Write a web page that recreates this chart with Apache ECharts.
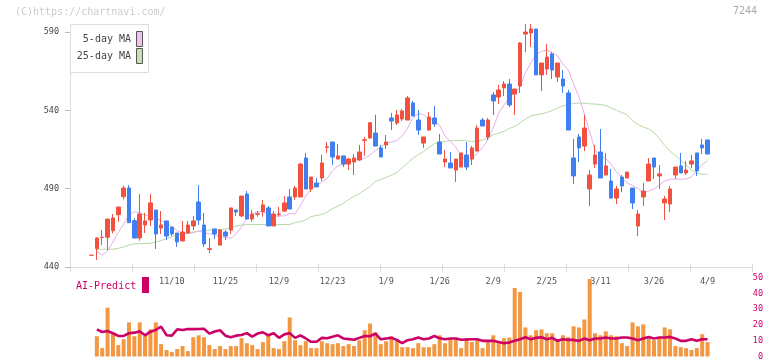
<!DOCTYPE html>
<html><head><meta charset="utf-8">
<script src="https://cdn.jsdelivr.net/npm/echarts@6/dist/echarts.min.js"></script>
<style>html,body{margin:0;padding:0;background:#fff}#c{width:772px;height:361px}</style>
</head><body><div id="c"></div>
<script>
const dates = ['10/17','10/20','10/21','10/22','10/23','10/24','10/27','10/28','10/29','10/30','10/31','11/4','11/5','11/6','11/7',
'11/10','11/11','11/12','11/13','11/14','11/17','11/18','11/19','11/20','11/21','11/25','11/26','11/27','11/28','12/1','12/2','12/3','12/4','12/5','12/8',
'12/9','12/10','12/11','12/12','12/15','12/16','12/17','12/18','12/19','12/22','12/23','12/24','12/25','12/26','12/29','12/30','1/5','1/6','1/7','1/8',
'1/9','1/13','1/14','1/15','1/16','1/19','1/20','1/21','1/22','1/23','1/26','1/27','1/28','1/29','1/30','2/2','2/3','2/4','2/5','2/6',
'2/9','2/10','2/12','2/13','2/16','2/17','2/18','2/19','2/20','2/24','2/25','2/26','2/27','3/2','3/3','3/4','3/5','3/6','3/9','3/10',
'3/11','3/12','3/13','3/16','3/17','3/18','3/19','3/23','3/24','3/25','3/26','3/27','3/30','3/31','4/1','4/2','4/3','4/6','4/7','4/8','4/9'];
const tickLabels = ['11/10','11/25','12/9','12/23','1/9','1/26','2/9','2/25','3/11','3/26','4/9'];
const priceTicks = [440, 490, 540, 590];

const opens = [447.5,451.7,458.8,459,463.2,473.4,484.9,490.4,469.6,458.5,466.8,470,476.4,464.9,469.4,465.5,461.7,456.6,461.7,466.2,
481.5,466.8,451.2,464.3,454,462.3,463.6,476.4,472.6,486.6,470.6,473.6,475.3,477.7,466.2,473.6,475.7,484.7,484.7,484.7,
509.6,489.8,493.6,496.8,516.4,519.8,508.9,510.9,505.7,507,508.3,520.8,522.4,525.5,516,517.9,535.1,531.9,534.5,533.8,
544.7,533.8,519.1,527.4,535.1,519.8,507,506.4,501.9,503.8,511.5,508.9,514,533.8,523,549.8,548.5,554.3,556.8,550.4,
555.5,588.7,589.4,591.9,562.6,566.4,576,561.3,560,551.1,509.6,523,517.2,489.8,505.7,513.4,498.7,494.9,484,497.4,
496.8,490.4,466.2,484.7,494.9,509.6,498.1,480.9,480.2,498.7,504.5,500,505.7,512.8,517.9,521.1];
const closes = [447.5,458.5,459,470.6,471.3,478.3,490.4,468.3,458.5,473.8,469.4,480.9,461.1,466.8,459.8,461.1,456,462.3,466.8,469.4,
470,454.7,451.7,461.1,463.6,459.8,477.7,475.1,485.3,470.6,473.8,474,479.6,466.2,473.8,473.9,480.9,477,490.4,505.7,
489.8,497.4,491.1,506.4,516.8,510.2,510.9,505.7,508.9,509.6,513.4,521.2,532.1,517.2,510.2,519.8,533.2,537,539.6,547.9,
536.4,527.4,523,535.7,531.3,512.1,508.9,503.2,508.9,512.8,503.8,516,528.7,530,533.8,546,553,556.8,543.4,553.6,
583,590,591.9,562.6,570.2,574,565.7,570.2,555.5,527.4,498.1,516,528.7,498.7,511.5,496.8,504.5,484,489.8,491.7,
500.6,480.9,473.8,488.5,505.7,503.8,499.4,483.4,489.8,503.8,500,501.9,507.7,501.3,516,512.1];
const lows = [447.5,444.5,454,450.8,461.5,468.9,483.2,468.3,458.5,456.8,461.7,466.2,451.5,461.1,457.2,459.8,452.8,456.6,461.7,463.6,
466.8,452.8,448.9,457.9,454,457.2,461.1,472.6,471.9,470.6,468.9,472.1,472.1,466.2,466.2,472.1,475.1,477,482.8,484.7,
489.8,487.9,491.1,494.9,512.8,505.1,508.9,503.8,501.9,498.7,507.7,511,521.7,517.2,510.2,515.3,527.4,530.6,533.2,533.8,
536.4,524.3,516,527.4,529.4,512.1,503.8,503.2,494.3,503.8,501.9,505.1,514,530,521.1,537,544,549.1,542.1,537,
551.1,577.2,580.4,562.6,552.3,562.6,560,558.1,551.1,527.4,493,507,514,478.9,503.2,496.8,498.7,484,480.2,487.9,
496.8,477,459.8,478.9,494.9,496.2,489.8,470,475.1,496.2,500,498.7,503.2,498.1,512.1,512.1];
const highs = [447.5,459,463.6,470.6,473.8,478.3,491.9,492.3,471.1,486.6,474.5,486.6,476.4,475.7,469.4,465.5,461.7,469.4,469.4,472.6,
492.3,474.5,458.5,464.3,464.3,463.6,477.7,476.4,485.3,488.5,476.4,475.7,482.8,478.9,475.7,478.3,485.3,489.8,491.7,506.4,
512.8,497.4,496.8,511.7,519.8,519.8,518.5,510.9,509.6,512.1,517.9,523,532.1,537.2,517.9,524.3,538.3,540.2,540.9,549.1,
546,540.2,523,538.9,542.8,524.9,514.7,513.4,508.9,512.8,519.8,517.2,530.6,535.1,535.1,551.7,556.2,558.7,560,553.6,
583.6,595.1,595.1,591.9,570.2,582.3,577.2,570.2,565.7,553,521.7,524.9,537,501.9,517.9,528.1,512.8,502.6,491.7,498.7,
500.6,490.4,476.4,493.6,509.6,509.6,505.1,485.3,491.7,503.8,512.8,507.7,511.5,512.8,521.7,521.1];

const ma5 = ['-',449.8,447.7,450.2,456.0,462.0,467.4,473.2,475.3,474.5,473.2,472.1,471.0,469.7,467.8,465.9,463.0,461.4,461.4,461.9,
463.0,462.0,461.1,460.7,459.1,459.1,458.2,461.1,465.5,471.3,474.1,475.4,475.1,474.1,472.6,472.6,472.6,474.1,473.8,479.3,
485.3,489.8,492.3,494.3,496.5,501.6,504.5,505.7,506.1,508.3,508.7,509.3,511.5,514.4,516.9,519.0,519.8,520.7,523.6,528.7,
535.1,538.0,537.3,534.8,533.2,530.3,523.6,520.1,516.6,510.9,507.3,508.9,512.6,516.3,521.1,528.7,538.3,543.4,548.2,551.1,
554.9,563.8,570.2,575.6,577.6,578.5,576.9,574.7,569.6,565.7,556.8,548.5,537.7,526.2,514.7,510.5,509.4,505.4,500.6,497.1,
493.6,492.0,490.1,487.2,488.5,489.8,492.3,494.9,495.9,496.2,495.9,496.2,497.5,501.3,505.4,507.7];
const ma25 = ['-',451.3,451.3,451.3,451.3,451.9,452.8,454.0,454.7,454.9,455.0,455.1,456.0,456.9,458.1,459.3,460.4,461.3,461.9,462.3,
462.9,463.2,463.6,463.8,463.9,464.3,465.1,466.0,466.7,467.0,467.1,467.1,467.1,467.1,467.1,467.1,467.1,467.1,468.3,469.0,
470.0,472.2,472.9,473.5,475.1,477.3,478.9,480.5,483.1,485.0,486.9,489.1,491.3,494.6,495.9,497.1,498.7,500.3,503.5,506.4,
509.3,511.8,513.7,516.3,518.8,519.6,520.1,520.6,520.7,520.7,520.6,520.1,520.4,521.1,522.7,524.3,525.5,526.6,528.4,529.7,
531.9,534.5,536.4,537.2,537.7,538.6,539.9,541.5,542.9,543.7,544.4,544.7,544.5,544.2,544.0,543.7,543.1,541.5,539.9,538.6,
537.0,533.4,531.0,529.4,528.1,525.9,522.0,517.6,514.0,511.2,508.3,505.1,501.9,500.0,499.2,499.2];

const volume = ['-',12.8,5.3,30.9,14.1,7.2,10.9,21.6,12.8,21.6,13.0,17.2,21.6,7.8,4.1,2.8,4.7,6.6,3.4,12.2,
13.4,12.2,7.2,4.7,6.6,4.7,6.6,6.6,11.6,8.4,7.2,4.7,9.1,13.4,5.3,4.7,9.7,24.7,10.3,7.2,
9.7,5.3,5.3,9.7,8.4,7.8,8.4,6.6,7.8,6.6,10.3,16.6,20.9,15.3,7.8,9.7,12.8,10.3,5.9,5.9,
5.3,8.4,5.9,5.9,7.8,13.4,8.4,10.9,10.9,5.3,11.6,9.1,10.9,5.3,9.1,13.4,9.7,11.6,12.0,43.4,
40.9,18.4,13.4,16.6,17.2,14.7,14.7,10.9,13.4,12.2,19.1,18.4,23.4,49.1,14.7,13.4,15.9,13.4,12.8,8.4,
6.6,21.6,19.1,20.3,11.6,10.3,11.6,18.4,17.2,6.6,5.9,5.3,4.1,5.3,14.1,9.1];
const aiPredict = ['-',17.2,15.5,16.1,14.7,13.0,13.0,14.7,15.1,15.9,13.4,15.7,16.8,18.9,13.5,13.2,17.2,16.8,17.4,17.3,
17.4,17.6,14.5,15.8,16.6,13.2,12.2,13.2,13.6,14.8,12.6,14.5,15.3,13.4,14.7,11.8,14.0,14.8,11.8,13.4,
11.4,9.3,9.3,11.8,11.5,12.5,13.4,11.4,11.0,10.6,11.8,13.0,12.8,14.5,10.9,11.4,11.8,10.5,8.4,10.3,
10.9,12.0,10.9,11.4,13.0,11.5,10.9,11.4,11.4,10.6,10.8,10.9,10.9,9.9,9.9,9.9,9.2,8.4,8.9,9.9,
10.9,12.2,10.9,11.8,12.2,10.9,11.8,9.9,10.9,10.5,10.5,9.9,11.4,10.3,11.4,11.4,12.0,11.4,11.4,12.0,
12.0,11.4,10.3,11.4,12.4,11.4,12.0,12.0,12.4,11.4,9.9,9.9,10.9,9.9,10.9,10.9];

const UP = '#f2513f', DOWN = '#3f7fef';
const MONO = '"DejaVu Sans Mono", monospace';
const ohlc = dates.map((d, i) => [opens[i], closes[i], lows[i], highs[i]]);

const slot = 5.357;
const candleLeft = 91.5 - slot / 2;
const candleWidth = slot * dates.length;

const chart = echarts.init(document.getElementById('c'), null, {renderer: 'canvas'});
chart.setOption({
  animation: false,
  backgroundColor: '#fff',
  grid: [
    {left: candleLeft, width: candleWidth, top: 32, height: 235},
    {left: 70, width: 682, top: 32, height: 235},
    {left: candleLeft, width: candleWidth, top: 277.5, height: 80}
  ],
  xAxis: [
    {type: 'category', gridIndex: 0, data: dates, boundaryGap: true,
     axisLine: {show: false}, axisTick: {show: false}, splitLine: {show: false},
     axisLabel: {interval: (i, v) => tickLabels.includes(v), margin: 10, color: '#555', fontFamily: MONO, fontSize: 8.5}},
    {type: 'value', gridIndex: 1, min: 0, max: 11, interval: 1, position: 'bottom',
     axisLine: {lineStyle: {color: '#dddddd', width: 1}}, axisTick: {length: 5, lineStyle: {color: '#dddddd'}},
     axisLabel: {show: false}, splitLine: {show: false}},
    {type: 'value', gridIndex: 1, min: 0, max: 11, interval: 1, position: 'bottom',
     axisLine: {show: false}, axisTick: {inside: true, length: 3, lineStyle: {color: '#dddddd'}},
     axisLabel: {show: false}, splitLine: {show: false}},
    {type: 'category', gridIndex: 2, data: dates, boundaryGap: true, show: false}
  ],
  yAxis: [
    {type: 'value', gridIndex: 0, min: 440, max: 590, show: false},
    {type: 'value', gridIndex: 1, min: priceTicks[0], max: priceTicks[priceTicks.length - 1], interval: 50,
     axisLine: {show: true, lineStyle: {color: '#dddddd'}}, axisTick: {show: true, length: 5, lineStyle: {color: '#bbbbbb'}},
     axisLabel: {margin: 11, color: '#444', fontFamily: MONO, fontSize: 8.5}, splitLine: {show: false}},
    {type: 'value', gridIndex: 2, min: 0, max: 50, interval: 10, position: 'right', offset: 752 - (candleLeft + candleWidth),
     axisLine: {show: false}, axisTick: {show: false}, splitLine: {show: false},
     axisLabel: {align: 'right', margin: 11, color: '#cc0066', fontFamily: MONO, fontSize: 8.5}}
  ],
  series: [
    {type: 'line', name: '25-day MA', xAxisIndex: 0, yAxisIndex: 0, data: ma25, symbol: 'none', z: 2,
     lineStyle: {color: '#b4dba4', width: 1}},
    {type: 'line', name: '5-day MA', xAxisIndex: 0, yAxisIndex: 0, data: ma5, symbol: 'none', z: 2,
     lineStyle: {color: '#e8aee8', width: 1}},
    {type: 'candlestick', xAxisIndex: 0, yAxisIndex: 0, data: ohlc, barWidth: 4, z: 3, clip: false,
     itemStyle: {color: UP, color0: DOWN, borderColor: UP, borderColor0: DOWN, borderColorDoji: UP, borderWidth: 1}},
    {type: 'bar', xAxisIndex: 3, yAxisIndex: 2, data: volume, barWidth: 4, z: 4,
     itemStyle: {color: '#f29742'}},
    {type: 'line', xAxisIndex: 3, yAxisIndex: 2, data: aiPredict, symbol: 'none', z: 5,
     lineStyle: {color: '#cc0066', width: 2.6}}
  ],
  graphic: [
    {type: 'text', x: 15, y: 12.5, style: {text: '(C)https://chartnavi.com/', font: '10px ' + MONO, fill: '#cccccc', verticalAlign: 'middle'}},
    {type: 'text', x: 757, y: 11.5, style: {text: '7244', font: '10px ' + MONO, fill: '#aaaaaa', align: 'right', verticalAlign: 'middle'}},
    {type: 'rect', shape: {x: 70.5, y: 24.5, width: 78, height: 48}, style: {fill: '#fff', stroke: '#dddddd', lineWidth: 1}, z: 10},
    {type: 'text', x: 131, y: 39.5, style: {text: '5-day MA', font: '10px ' + MONO, fill: '#444', align: 'right', verticalAlign: 'middle'}, z: 11},
    {type: 'rect', shape: {x: 136.5, y: 31.5, width: 6, height: 15}, style: {fill: '#f0c2f0', stroke: '#555', lineWidth: 1}, z: 11},
    {type: 'text', x: 131, y: 56, style: {text: '25-day MA', font: '10px ' + MONO, fill: '#444', align: 'right', verticalAlign: 'middle'}, z: 11},
    {type: 'rect', shape: {x: 136.5, y: 48.5, width: 6, height: 15}, style: {fill: '#c2e2b2', stroke: '#555', lineWidth: 1}, z: 11},
    {type: 'text', x: 76, y: 286, style: {text: 'AI-Predict', font: '10px ' + MONO, fill: '#cc0066', verticalAlign: 'middle'}, z: 11},
    {type: 'rect', shape: {x: 142, y: 277, width: 7, height: 16}, style: {fill: '#cc0066'}, z: 11}
  ]
});
</script></body></html>
